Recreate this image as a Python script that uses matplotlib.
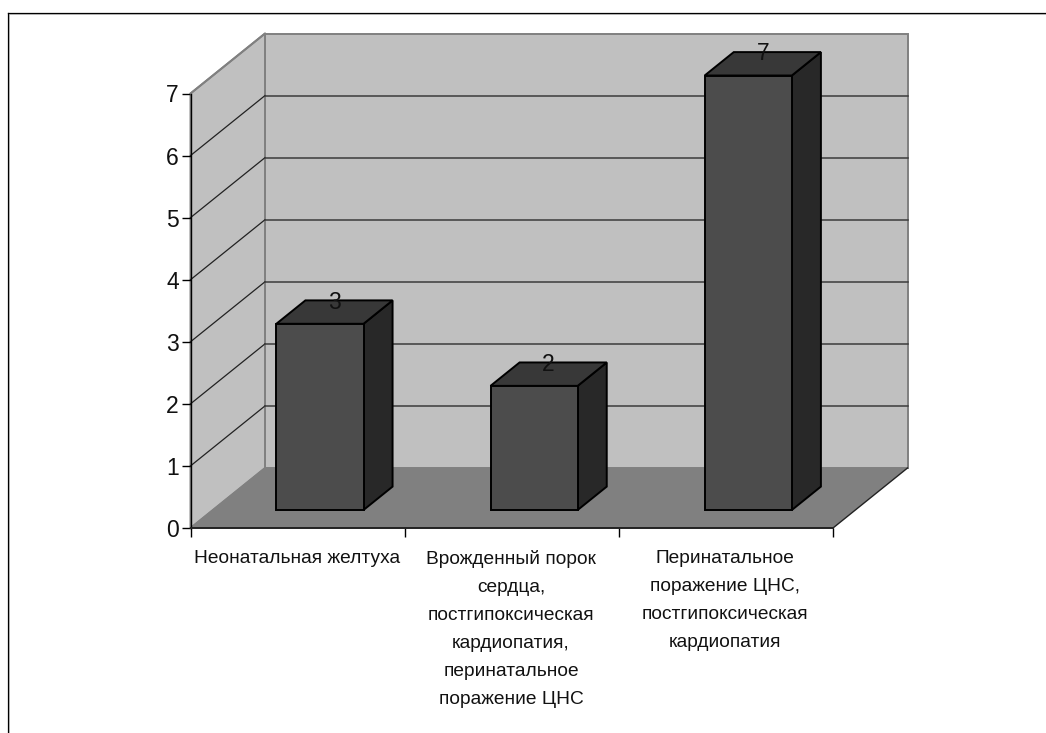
import numpy as np
import matplotlib
matplotlib.use('Agg')
import matplotlib.pyplot as plt
from matplotlib.lines import Line2D
from matplotlib.patches import Polygon

categories = [
    "Неонатальная желтуха",
    "Врожденный порок\nсердца,\nпостгипоксическая\nкардиопатия,\nперинатальное\nпоражение ЦНС",
    "Перинатальное\nпоражение ЦНС,\nпостгипоксическая\nкардиопатия",
]
values = [3, 2, 7]
y_ticks = [0, 1, 2, 3, 4, 5, 6, 7]

W, H = 1046, 733
plt.rcParams['font.family'] = ['Liberation Sans', 'DejaVu Sans']

# plot box of the front plane, in pixels
LEFT, RIGHT, TOP, BOTTOM = 190.5, 833.0, 93.5, 528.0
YMAX = 7
# what one full step into the depth of the box shifts, in data units
DX = 74.5 / ((RIGHT - LEFT) / len(categories))
DY = 60.0 / ((BOTTOM - TOP) / YMAX)
BAR_W = 0.407
D_NEAR, D_FAR = 0.30, 0.69


def pt(x, y, d=0.0):
    return (x + d * DX, y + d * DY)


fig = plt.figure(figsize=(W / 100, H / 100), dpi=100, facecolor='white')

# frame: only the top and left edges fall inside the canvas
for xs, ys, col, lw in [
    ([8.9, 8.9], [13.5, H], '#c8c8c8', 0.7),
    ([8.9, W], [13.5, 13.5], '#c8c8c8', 0.7),
    ([8.0, 8.0], [12.6, H], 'black', 0.9),
    ([8.0, W], [12.6, 12.6], 'black', 0.9),
]:
    fig.add_artist(Line2D([x / W for x in xs], [1 - y / H for y in ys], color=col,
                          linewidth=lw, transform=fig.transFigure))

ax = fig.add_axes([LEFT / W, 1 - BOTTOM / H, (RIGHT - LEFT) / W, (BOTTOM - TOP) / H])
ax.set_xlim(0, len(categories))
ax.set_ylim(0, YMAX)
ax.patch.set_visible(False)
for name in ['top', 'right']:
    ax.spines[name].set_visible(False)
ax.spines['left'].set_linewidth(1.0)
ax.spines['bottom'].set_linewidth(1.4)
ax.spines['bottom'].set_color('#222222')
ax.spines['left'].set_zorder(6)
ax.spines['bottom'].set_zorder(6)

n = len(categories)
wall_col = '#c0c0c0'
edge_grey = '#808080'


def poly(points, **kw):
    kw.setdefault('clip_on', False)
    ax.add_patch(Polygon(points, closed=True, **kw))


# back wall, side wall and floor
poly([pt(0, 0, 1), pt(n, 0, 1), pt(n, YMAX, 1), pt(0, YMAX, 1)],
     facecolor=wall_col, edgecolor=edge_grey, linewidth=1.4, zorder=1)
poly([pt(0, 0), pt(0, 0, 1), pt(0, YMAX, 1), pt(0, YMAX)],
     facecolor=wall_col, edgecolor=edge_grey, linewidth=1.4, zorder=1)
poly([pt(0, 0), pt(n, 0), pt(n, 0, 1), pt(0, 0, 1)],
     facecolor='#808080', edgecolor='none', zorder=2)

# gridlines run along the side wall and across the back
for v in y_ticks[1:-1]:
    a, b, c = pt(0, v), pt(0, v, 1), pt(n, v, 1)
    ax.plot([a[0], b[0]], [a[1], b[1]], color='#222222', linewidth=0.9,
            clip_on=False, zorder=3)
    ax.plot([b[0], c[0]], [b[1], c[1]], color='#3c3c3c', linewidth=1.1,
            clip_on=False, zorder=3)
a, b = pt(0, YMAX), pt(0, YMAX, 1)
ax.plot([a[0], b[0]], [a[1], b[1]], color=edge_grey, linewidth=1.4, clip_on=False, zorder=3)
# thin outline on the open edges of the floor
a, b = pt(n, 0), pt(n, 0, 1)
ax.plot([a[0], b[0]], [a[1], b[1]], color='#222222', linewidth=1.0, clip_on=False, zorder=3)
a, b = pt(0, 0), pt(0, 0, 1)
ax.plot([a[0], b[0]], [a[1], b[1]], color=edge_grey, linewidth=1.0, clip_on=False, zorder=3)

# bars
for i, v in enumerate(values):
    x0 = i + 0.5 - BAR_W / 2
    x1 = i + 0.5 + BAR_W / 2
    # side face
    poly([pt(x1, 0, D_NEAR), pt(x1, 0, D_FAR), pt(x1, v, D_FAR), pt(x1, v, D_NEAR)],
         facecolor='#282828', edgecolor='black', linewidth=1.4, zorder=4, joinstyle='miter')
    # top face
    poly([pt(x0, v, D_NEAR), pt(x1, v, D_NEAR), pt(x1, v, D_FAR), pt(x0, v, D_FAR)],
         facecolor='#383838', edgecolor='black', linewidth=1.4, zorder=4, joinstyle='miter')
    # front face
    poly([pt(x0, 0, D_NEAR), pt(x1, 0, D_NEAR), pt(x1, v, D_NEAR), pt(x0, v, D_NEAR)],
         facecolor='#4c4c4c', edgecolor='black', linewidth=1.4, zorder=5, joinstyle='miter')
    # value sits over the back edge of the top face, mid way into the depth
    lx = pt(i + 0.5, v, (D_NEAR + D_FAR) / 2)[0]
    ly = pt(i + 0.5, v, D_FAR)[1]
    ax.annotate(str(v), xy=(lx, ly), xytext=(0, -1.2), textcoords='offset points',
                ha='center', va='center', fontsize=16.5, color='#111111',
                zorder=7, annotation_clip=False)

ax.set_yticks(y_ticks)
ax.set_yticklabels([str(t) for t in y_ticks], fontsize=16.5, color='#111111')
ax.tick_params(axis='y', length=6.5, width=1.0, pad=1.8, color='black')

ax.set_xticks(range(n + 1))
ax.set_xticklabels([])
ax.tick_params(axis='x', length=6.5, width=1.0, color='black')

for i, name in enumerate(categories):
    ax.annotate(name, xy=(i + 0.5, 0), xytext=(-0.5, -16), textcoords='offset points',
                ha='center', va='top', fontsize=13.8, color='#111111', linespacing=1.85,
                annotation_clip=False)

fig.savefig('out.png', dpi=100)
